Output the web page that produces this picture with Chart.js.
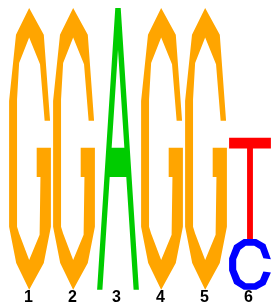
<!DOCTYPE html>
<html>
<head>
<meta charset="utf-8">
<title>Sequence logo</title>
<script src="https://cdn.jsdelivr.net/npm/chart.js@4/dist/chart.umd.min.js"></script>
<style>
  html, body { margin: 0; padding: 0; background: #ffffff; }
  #wrap { position: relative; width: 272px; height: 305px; }
</style>
</head>
<body>
<div id="wrap"><canvas id="logo"></canvas></div>
<script>
/* Sequence logo: one stacked "bar" per letter, drawn as a glyph */

// positions along the motif
const positions = ['1', '2', '3', '4', '5', '6'];

// information content (bits) per letter and position
const bitsA = [0, 0, 2, 0, 0, 0];
const bitsC = [0, 0, 0, 0, 0, 0.36];
const bitsG = [2, 2, 0, 2, 2, 0];
const bitsT = [0, 0, 0, 0, 0, 0.72];

const letterColors = {
  A: '#00cc00',
  C: '#0000ff',
  G: '#ffa500',
  T: '#ff0000'
};

// Glyph outlines in a unit box (u across, v down). Holes filled even-odd.
const glyphs = {
  G: [[
    [0.48, 0], [0.83, 0.095], [0.98, 0.40], [0.85, 0.40], [0.74, 0.20],
    [0.48, 0.105], [0.24, 0.195], [0.19, 0.325], [0.19, 0.776], [0.24, 0.80],
    [0.48, 0.894], [0.73, 0.805], [0.75, 0.60], [0.66, 0.60], [0.66, 0.496],
    [1.0, 0.496], [1.0, 0.776], [0.83, 0.905], [0.48, 1], [0.17, 0.905],
    [0, 0.776], [0, 0.33], [0.165, 0.095]
  ]],
  A: [[
    [0.435, 0], [0.565, 0], [1, 1], [0.873, 1], [0.698, 0.60],
    [0.302, 0.60], [0.127, 1], [0, 1]
  ], [
    [0.5, 0.148], [0.652, 0.496], [0.348, 0.496]
  ]],
  T: [[
    [0, 0], [1, 0], [1, 0.106], [0.57, 0.106], [0.57, 1],
    [0.43, 1], [0.43, 0.106], [0, 0.106]
  ]],
  C: [[
    [1, 0.40], [0.87, 0.10], [0.65, 0], [0.35, 0], [0.12, 0.12],
    [0, 0.38], [0, 0.62], [0.12, 0.88], [0.35, 1], [0.65, 1],
    [0.87, 0.90], [1, 0.66], [0.82, 0.64], [0.74, 0.80], [0.60, 0.87],
    [0.40, 0.87], [0.27, 0.79], [0.17, 0.60], [0.17, 0.40], [0.27, 0.21],
    [0.40, 0.13], [0.60, 0.13], [0.74, 0.20], [0.82, 0.38]
  ]]
};

/** Fill one glyph into the rectangle of a bar element. */
function drawGlyph(ctx, letter, left, top, w, h) {
  ctx.beginPath();
  glyphs[letter].forEach(ring => {
    ring.forEach(([u, v], i) => {
      const px = left + u * w;
      const py = top + v * h;
      if (i === 0) ctx.moveTo(px, py); else ctx.lineTo(px, py);
    });
    ctx.closePath();
  });
  ctx.fillStyle = letterColors[letter];
  ctx.fill('evenodd');
}

const glyphPlugin = {
  id: 'glyphs',
  afterDatasetsDraw(chart) {
    const ctx = chart.ctx;
    ctx.save();
    chart.data.datasets.forEach((ds, di) => {
      const meta = chart.getDatasetMeta(di);
      meta.data.forEach((bar, i) => {
        if (!ds.data[i]) return;
        const h = bar.base - bar.y;
        if (h <= 0) return;
        drawGlyph(ctx, ds.label, bar.x - bar.width / 2, bar.y, bar.width, h);
      });
    });
    ctx.restore();
  }
};

// dataset order = stacking order, bottom first
const series = [
  { label: 'C', data: bitsC },
  { label: 'A', data: bitsA },
  { label: 'G', data: bitsG },
  { label: 'T', data: bitsT }
];

new Chart(document.getElementById('logo'), {
  type: 'bar',
  data: {
    labels: positions,
    datasets: series.map(s => ({
      label: s.label,
      data: s.data,
      backgroundColor: 'rgba(0,0,0,0)',
      borderWidth: 0,
      categoryPercentage: 1,
      barPercentage: 0.95
    }))
  },
  options: {
    responsive: true,
    maintainAspectRatio: false,
    animation: false,
    layout: { padding: { left: 8, right: 0, top: 8, bottom: 0 } },
    plugins: {
      legend: { display: false },
      tooltip: { enabled: false }
    },
    scales: {
      x: {
        stacked: true,
        grid: { display: false, drawTicks: false },
        border: { display: false },
        ticks: {
          color: '#000000',
          padding: 0,
          labelOffset: -1.5,
          font: { family: 'Liberation Sans, Arial, sans-serif', size: 16, weight: 'bold', lineHeight: 0.95 }
        }
      },
      y: {
        stacked: true,
        display: false,
        min: 0,
        max: 2
      }
    }
  },
  plugins: [glyphPlugin]
});
</script>
</body>
</html>
